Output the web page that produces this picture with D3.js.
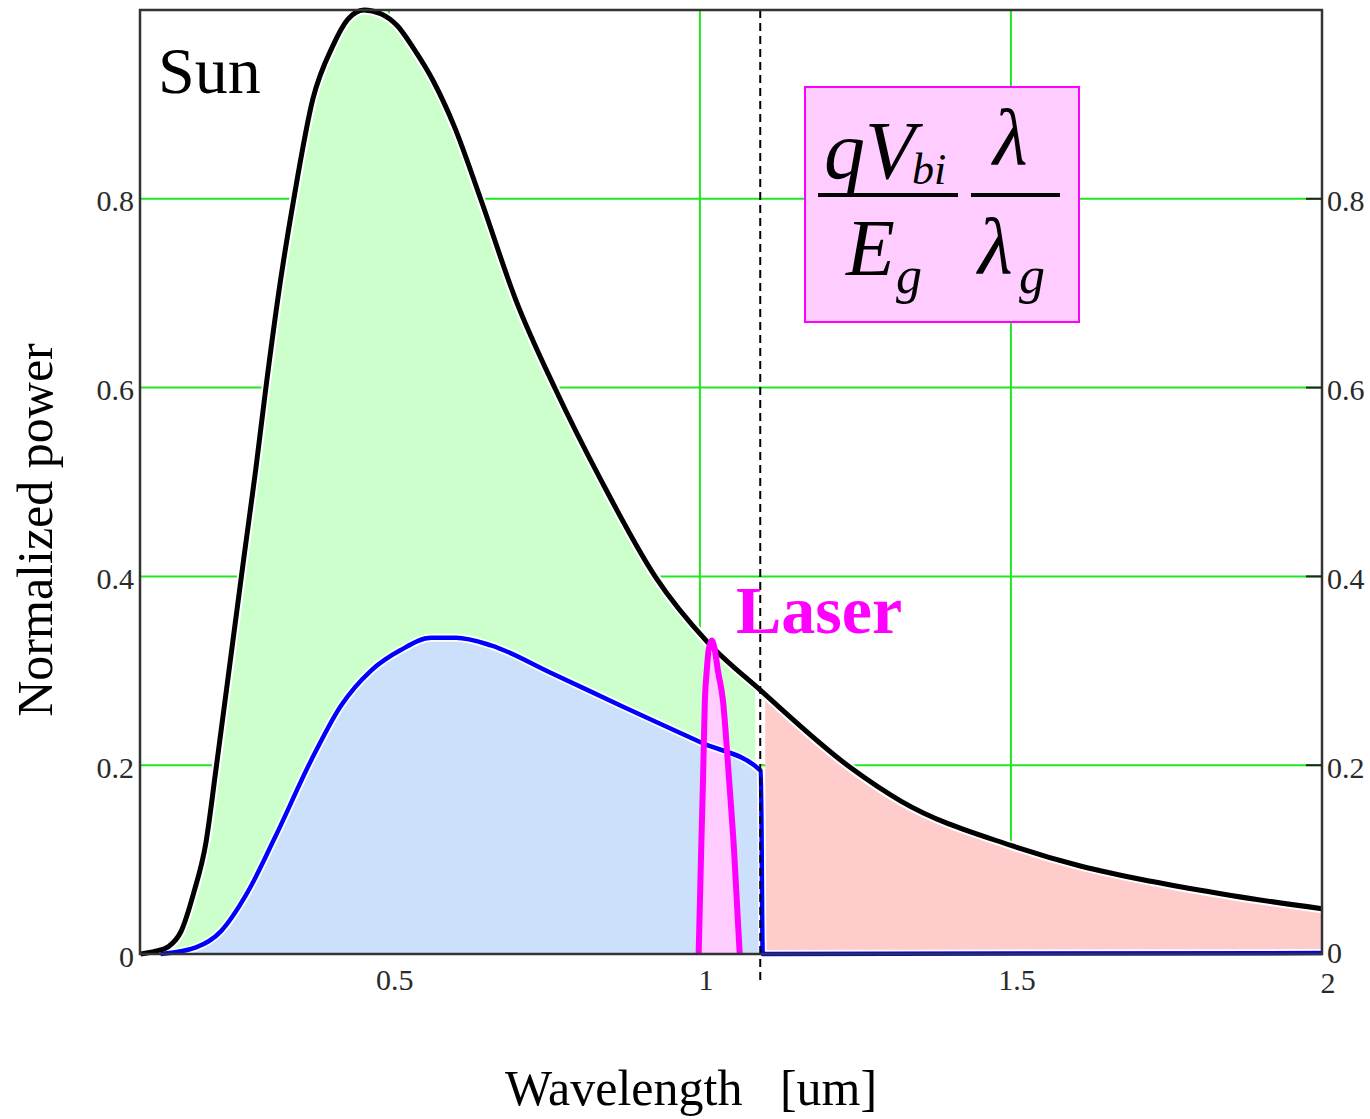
<!DOCTYPE html>
<html><head><meta charset="utf-8">
<script src="https://cdn.jsdelivr.net/npm/d3@7"></script>
<style>body{margin:0;background:#fff} svg{display:block}</style>
</head><body>
<script>
// ---- data (wavelength in um, normalized power) ----
const sunX = [0.101,0.125,0.146,0.166,0.186,0.206,0.222,0.243,0.267,0.286,0.302,0.326,0.347,0.378,0.410,0.434,0.460,0.487,0.514,0.540,0.572,0.605,0.648,0.704,0.768,0.841,0.929,1.010,1.098,1.243,1.323,1.500,1.613,1.725,1.854,2.000];
const sunY = [0.000,0.003,0.008,0.024,0.064,0.118,0.195,0.300,0.420,0.513,0.598,0.714,0.799,0.906,0.962,0.990,1.000,0.996,0.983,0.959,0.924,0.877,0.799,0.693,0.598,0.502,0.399,0.332,0.279,0.197,0.162,0.115,0.093,0.077,0.062,0.048];
const pvX = [0.133,0.190,0.230,0.270,0.318,0.375,0.423,0.471,0.519,0.568,0.608,0.664,0.760,0.873,1.002,1.098,1.101,2.000];
const pvY = [0.000,0.007,0.024,0.062,0.125,0.205,0.263,0.300,0.322,0.335,0.335,0.327,0.298,0.263,0.224,0.194,0.000,0.001];
const laserX = [0.998,1.002,1.005,1.008,1.011,1.014,1.019,1.024,1.029,1.037,1.047,1.055,1.064];
const laserY = [0.000,0.109,0.184,0.269,0.300,0.322,0.332,0.322,0.300,0.269,0.184,0.109,0.000];
const bandgap = 1.097;
const xTicks = [0.5,1,1.5,2];
const xTickLabels = ["0.5","1","1.5","2"];
const yTicks = [0,0.2,0.4,0.6,0.8];
const yTickLabels = ["0","0.2","0.4","0.6","0.8"];
const xDomain = [0.1,2];
const yDomain = [0,1];

const W=1370,H=1119;
const FONT = "'Liberation Serif','Times New Roman',serif";
const svg = d3.select("body").append("svg").attr("width",W).attr("height",H);
const x = d3.scaleLinear().domain(xDomain).range([140,1322]);
const y = d3.scaleLinear().domain(yDomain).range([954,10]);

const sun = sunX.map((v,i)=>({x:v,y:sunY[i]}));
const pv = pvX.map((v,i)=>({x:v,y:pvY[i]}));
const laser = laserX.map((v,i)=>({x:v,y:laserY[i]}));

const defs = svg.append("defs");
defs.append("clipPath").attr("id","cl").append("rect")
  .attr("x",x(0.1)).attr("y",0).attr("width",x(bandgap-0.008)-x(0.1)).attr("height",H);
defs.append("clipPath").attr("id","cr").append("rect")
  .attr("x",x(bandgap+0.008)).attr("y",0).attr("width",x(2)-x(bandgap+0.008)).attr("height",H);

// grid
const GREEN="#22e622";
svg.append("g").selectAll("line").data(xTicks.filter(t=>t<2)).join("line")
  .attr("x1",d=>x(d)).attr("x2",d=>x(d)).attr("y1",y(1)).attr("y2",y(0))
  .attr("stroke",GREEN).attr("stroke-width",2);
svg.append("g").selectAll("line").data(yTicks.filter(t=>t>0)).join("line")
  .attr("x1",x(0.1)).attr("x2",x(2)).attr("y1",d=>y(d)).attr("y2",d=>y(d))
  .attr("stroke",GREEN).attr("stroke-width",2);

const curve = d3.curveMonotoneX;
const area = d3.area().curve(curve).x(d=>x(d.x)).y0(y(0)).y1(d=>y(d.y));
const line = d3.line().curve(curve).x(d=>x(d.x)).y(d=>y(d.y));

// fills
svg.append("path").datum(sun).attr("d",area).attr("fill","#ccffcc").attr("clip-path","url(#cl)");
svg.append("path").datum(sun).attr("d",area).attr("fill","#ffcccc").attr("clip-path","url(#cr)");
svg.append("path").datum(pv.filter(d=>d.x<=bandgap+0.002)).attr("d",area).attr("fill","#cce0fc");
svg.append("path").datum(laser).attr("d",area).attr("fill","#ffccff");

// white halos
svg.append("path").datum(sun).attr("d",line).attr("fill","none").attr("stroke","#fff").attr("stroke-width",9).attr("stroke-linejoin","round");
svg.append("path").datum(pv).attr("d",line).attr("fill","none").attr("stroke","#fff").attr("stroke-width",8).attr("stroke-linejoin","round");

// lines
svg.append("path").datum(pv).attr("d",line).attr("fill","none").attr("stroke","#0000ff").attr("stroke-width",4.5).attr("stroke-linejoin","round");
svg.append("path").datum(sun).attr("d",line).attr("fill","none").attr("stroke","#000").attr("stroke-width",5).attr("stroke-linejoin","round");
svg.append("path").datum(laser).attr("d",line).attr("fill","none").attr("stroke","#ff00ff").attr("stroke-width",6).attr("stroke-linejoin","round");

// bandgap dashed line
svg.append("line").attr("x1",x(bandgap)).attr("x2",x(bandgap)).attr("y1",y(1)).attr("y2",985)
  .attr("stroke","#000").attr("stroke-width",2).attr("stroke-dasharray","8,5");

// frame
svg.append("rect").attr("x",x(0.1)).attr("y",y(1)).attr("width",x(2)-x(0.1)).attr("height",y(0)-y(1))
  .attr("fill","none").attr("stroke","#333").attr("stroke-width",2.5);
// right ticks
svg.append("g").selectAll("line").data(yTicks.filter(t=>t>0)).join("line")
  .attr("x1",x(2)-16).attr("x2",x(2)).attr("y1",d=>y(d)).attr("y2",d=>y(d))
  .attr("stroke","#222").attr("stroke-width",2);

// tick labels
const tl = svg.append("g").attr("font-family",FONT).attr("font-size",30).attr("fill","#2a2a2a");
tl.selectAll(".xl").data(xTicks).join("text").attr("class","xl")
  .attr("x",d=>x(d)+6).attr("y",d=>d===2?993:990).attr("text-anchor","middle").text((d,i)=>xTickLabels[i]);
tl.selectAll(".yl").data(yTicks).join("text").attr("class","yl")
  .attr("x",134).attr("y",d=>y(d)+2).attr("dy","0.35em").attr("text-anchor","end").text((d,i)=>yTickLabels[i]);
tl.selectAll(".yr").data(yTicks).join("text").attr("class","yr")
  .attr("x",1327).attr("y",d=>d===0?y(d)-2:y(d)+2).attr("dy","0.35em").attr("text-anchor","start").text((d,i)=>yTickLabels[i]);

// axis titles
svg.append("text").attr("x",691).attr("y",1105).attr("text-anchor","middle")
  .attr("font-family",FONT).attr("font-size",50).attr("fill","#000")
  .style("white-space","pre").text("Wavelength   [um]");
svg.append("text").attr("transform","translate(52,530) rotate(-90)").attr("text-anchor","middle")
  .attr("font-family",FONT).attr("font-size",50).attr("fill","#000").text("Normalized power");

// annotations
svg.append("text").attr("x",158).attr("y",93).attr("font-family",FONT).attr("font-size",66).attr("fill","#000").text("Sun");
svg.append("text").attr("x",736).attr("y",633).attr("font-family",FONT).attr("font-size",68).attr("font-weight","bold").attr("fill","#ff00ff").text("Laser");

// formula box
svg.append("rect").attr("x",805).attr("y",87).attr("width",274).attr("height",235)
  .attr("fill","#ffccff").attr("stroke","#ff00ff").attr("stroke-width",2);
const f = svg.append("g").attr("font-family",FONT).attr("font-style","italic").attr("fill","#000");
f.append("text").attr("x",824).attr("y",178).attr("font-size",82).text("qV");
f.append("text").attr("x",912).attr("y",184).attr("font-size",44).text("bi");
f.append("line").attr("x1",818).attr("x2",958).attr("y1",195).attr("y2",195).attr("stroke","#000").attr("stroke-width",4);
f.append("text").attr("x",846).attr("y",275).attr("font-size",80).text("E");
f.append("text").attr("x",896).attr("y",293).attr("font-size",52).text("g");
f.append("text").attr("x",993).attr("y",164).attr("font-size",80).text("λ");
f.append("line").attr("x1",971).attr("x2",1060).attr("y1",195).attr("y2",195).attr("stroke","#000").attr("stroke-width",4);
f.append("text").attr("x",978).attr("y",273).attr("font-size",80).text("λ");
f.append("text").attr("x",1019).attr("y",293).attr("font-size",52).text("g");
</script>
</body></html>
